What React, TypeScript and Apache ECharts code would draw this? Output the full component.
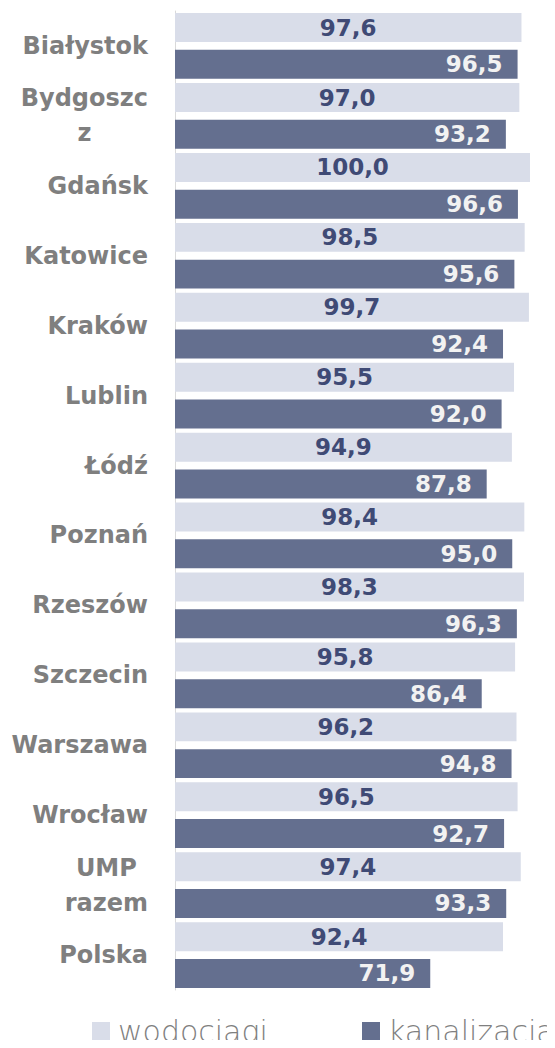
import React, { useEffect, useRef } from "react";
import * as echarts from "echarts";

const categories = [
  "Białystok",
  "Bydgoszc\nz",
  "Gdańsk",
  "Katowice",
  "Kraków",
  "Lublin",
  "Łódź",
  "Poznań",
  "Rzeszów",
  "Szczecin",
  "Warszawa",
  "Wrocław",
  "UMP\nrazem",
  "Polska",
];

const wodociagi = [97.6, 97.0, 100.0, 98.5, 99.7, 95.5, 94.9, 98.4, 98.3, 95.8, 96.2, 96.5, 97.4, 92.4];
const kanalizacja = [96.5, 93.2, 96.6, 95.6, 92.4, 92.0, 87.8, 95.0, 96.3, 86.4, 94.8, 92.7, 93.3, 71.9];

const seriesNames = ["wodociągi", "kanalizacja"];

const fmt = (v: number) => v.toFixed(1).replace(".", ",");

const legendText = {
  color: "#7f7f7f",
  fontFamily: "DejaVu Sans",
  fontWeight: 200,
  fontSize: 30,
  padding: [0, 0, 0, 3],
};

export default function App() {
  const ref = useRef<HTMLDivElement>(null);
  useEffect(() => {
    if (!ref.current) return;
    const chart = echarts.init(ref.current, null, { renderer: "svg" });
    chart.setOption({
      animation: false,
      grid: { left: 175, right: 25, top: 11, bottom: 58, containLabel: false },
      xAxis: {
        type: "value",
        min: 0,
        max: 100,
        show: false,
      },
      yAxis: {
        type: "category",
        inverse: true,
        data: categories,
        axisLine: { show: true, lineStyle: { color: "#d9d9d9", width: 1 } },
        axisTick: { show: false },
        axisLabel: {
          margin: 27,
          color: "#7f7f7f",
          fontFamily: "DejaVu Sans",
          fontWeight: "bold",
          fontSize: 24,
          formatter: (v: string) =>
            v
              .split("\n")
              .map((l) => `{c|${l}}`)
              .join("\n"),
          rich: {
            c: {
              align: "center",
              color: "#7f7f7f",
              fontFamily: "DejaVu Sans",
              fontWeight: "bold",
              fontSize: 24,
              lineHeight: 35,
            },
          },
        },
      },
      legend: [
        {
          left: 87,
          top: 1011,
          itemWidth: 18,
          itemHeight: 18,
          icon: "rect",
          textStyle: legendText,
          data: [seriesNames[0]],
        },
        {
          left: 357,
          top: 1011,
          itemWidth: 18,
          itemHeight: 18,
          icon: "rect",
          textStyle: legendText,
          data: [seriesNames[1]],
        },
      ],
      series: [
        {
          name: seriesNames[0],
          type: "bar",
          data: wodociagi,
          barCategoryGap: "6%",
          barGap: "27%",
          itemStyle: { color: "#d9dde9" },
          label: {
            show: true,
            position: "inside",
            formatter: (p: any) => fmt(p.value),
            color: "#3f4a75",
            fontFamily: "DejaVu Sans",
            fontWeight: "bold",
            fontSize: 23,
          },
        },
        {
          name: seriesNames[1],
          type: "bar",
          data: kanalizacja,
          barCategoryGap: "6%",
          barGap: "27%",
          itemStyle: { color: "#646f8f" },
          label: {
            show: true,
            position: "insideRight",
            distance: 15,
            formatter: (p: any) => fmt(p.value),
            color: "#f2f2f2",
            fontFamily: "DejaVu Sans",
            fontWeight: "bold",
            fontSize: 23,
          },
        },
      ],
    });
    return () => chart.dispose();
  }, []);
  return <div ref={ref} style={{ width: 555, height: 1048, margin: -8 }} />;
}
